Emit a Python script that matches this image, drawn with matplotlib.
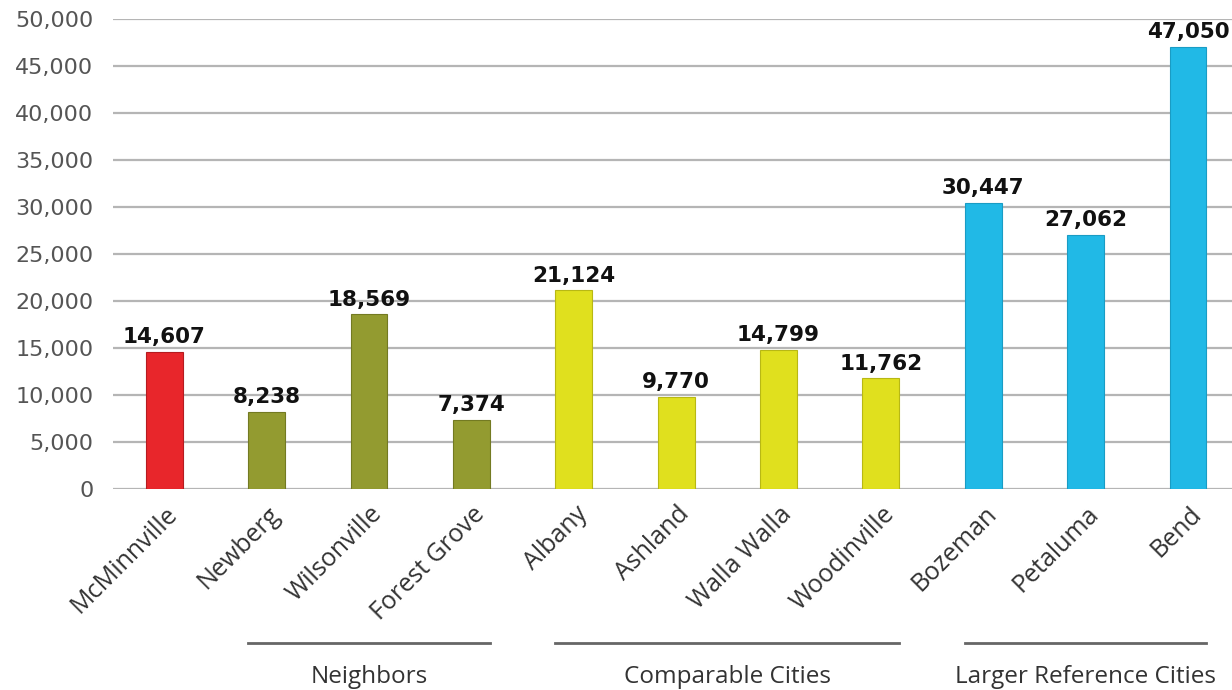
import numpy as np
import matplotlib.pyplot as plt
import matplotlib.transforms as mtransforms

plt.rcParams['font.family'] = ['Open Sans', 'DejaVu Sans']

# Data
cities = ["McMinnville", "Newberg", "Wilsonville", "Forest Grove", "Albany",
          "Ashland", "Walla Walla", "Woodinville", "Bozeman", "Petaluma", "Bend"]
values = [14607, 8238, 18569, 7374, 21124, 9770, 14799, 11762, 30447, 27062, 47050]
groups = ["Home", "Neighbors", "Neighbors", "Neighbors", "Comparable Cities",
          "Comparable Cities", "Comparable Cities", "Comparable Cities",
          "Larger Reference Cities", "Larger Reference Cities", "Larger Reference Cities"]

group_colors = {
    "Home": "#e8262b",
    "Neighbors": "#939b30",
    "Comparable Cities": "#e0e01e",
    "Larger Reference Cities": "#21b9e6",
}
edge_colors = {
    "Home": "#b51c20",
    "Neighbors": "#737a22",
    "Comparable Cities": "#b8b814",
    "Larger Reference Cities": "#1a9cc4",
}

# Bracket spans (first and last bar index of each group)
brackets = [("Neighbors", 1, 3), ("Comparable Cities", 4, 7), ("Larger Reference Cities", 8, 10)]

fig = plt.figure(figsize=(12.32, 6.9), dpi=100)
ax = fig.add_axes([113 / 1232, 1 - 489 / 690, 1 - 113 / 1232, 470 / 690])

x = np.arange(len(cities))
bar_w = 0.36
colors = [group_colors[g] for g in groups]
edges = [edge_colors[g] for g in groups]
ax.bar(x, values, width=bar_w, color=colors, edgecolor=edges, linewidth=0.8, zorder=3)

for xi, v in zip(x, values):
    ax.text(xi, v + 500, f"{v:,}", ha="center", va="bottom",
            fontsize=15.5, fontweight="bold", color="#111111", zorder=4,
            family="DejaVu Sans")

ax.set_xlim(-0.5, 10.43)
ax.set_ylim(0, 50000)
ax.set_yticks(np.arange(0, 50001, 5000))
ax.set_yticklabels([f"{t:,}" for t in range(0, 50001, 5000)], family="DejaVu Sans")
ax.yaxis.grid(True, color="#b5b5b5", linewidth=1.6, zorder=0)
ax.set_axisbelow(True)
for s in ax.spines.values():
    s.set_visible(False)
ax.tick_params(axis="y", length=0, pad=14, labelsize=16, labelcolor="#555555")
ax.tick_params(axis="x", length=0, pad=9)
ax.set_xticks(x)
ax.set_xticklabels(cities, rotation=45, ha="right", rotation_mode="anchor",
                   fontsize=18, color="#333333")
offset = mtransforms.ScaledTranslation(1 / 100, 0, fig.dpi_scale_trans)
for lbl in ax.get_xticklabels():
    lbl.set_transform(lbl.get_transform() + offset)

# Group brackets below the tick labels
trans = mtransforms.blended_transform_factory(ax.transData, ax.transAxes)
for name, i0, i1 in brackets:
    x0 = i0 - bar_w / 2
    x1 = i1 + bar_w / 2
    ax.plot([x0, x1], [-0.328, -0.328], transform=trans, color="#666666",
            linewidth=2, clip_on=False)
    ax.text((x0 + x1) / 2, -0.40, name, transform=trans, ha="center", va="center",
            fontsize=17.5, color="#333333")

fig.savefig("out.png", dpi=100)
